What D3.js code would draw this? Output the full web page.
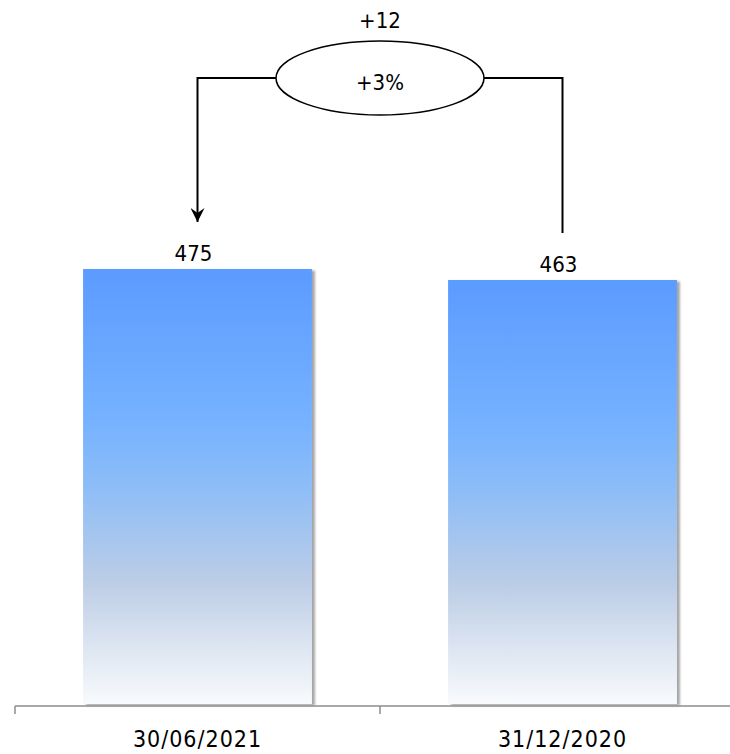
<!DOCTYPE html>
<html>
<head>
<meta charset="utf-8">
<script src="https://cdn.jsdelivr.net/npm/d3@7"></script>
<style>
  html, body { margin: 0; padding: 0; background: #fff; }
  svg { display: block; }
  text { font-family: "DejaVu Sans Condensed", "DejaVu Sans", sans-serif; font-stretch: condensed; fill: #000; }
</style>
</head>
<body>
<svg id="chart" width="730" height="754"></svg>
<script>
// Period labels and headcount values
const categories = ["30/06/2021", "31/12/2020"];
const values = [475, 463];
const deltaLabel = "+12";
const pctLabel = "+3%";

const W = 730, H = 754;
const svg = d3.select("#chart");

const baseY = 704;
const x = d3.scaleBand()
  .domain(categories)
  .range([15, 745])
  .paddingInner(0.373)
  .paddingOuter(0.1865);

const y = d3.scaleLinear()
  .domain([0, 500])
  .range([baseY, baseY - 500 * 435 / 475]);

const defs = svg.append("defs");
const grad = defs.append("linearGradient")
  .attr("id", "barFill")
  .attr("x1", 0).attr("y1", 0).attr("x2", 0).attr("y2", 1);
[
  [0, "#5b9bff"],
  [0.35, "#76b2ff"],
  [0.5, "#8dbdf7"],
  [0.72, "#bccde6"],
  [0.88, "#dfe7f2"],
  [1, "#f8fafd"]
].forEach(([o, c]) => grad.append("stop").attr("offset", o).attr("stop-color", c));

const shadow = defs.append("filter")
  .attr("id", "barShadow")
  .attr("x", "-5%").attr("y", "-5%").attr("width", "115%").attr("height", "115%");
shadow.append("feDropShadow")
  .attr("dx", 3).attr("dy", 1.5)
  .attr("stdDeviation", 1.2)
  .attr("flood-color", "#000")
  .attr("flood-opacity", 0.35);

defs.append("marker")
  .attr("id", "arrowHead")
  .attr("viewBox", "0 0 14 14")
  .attr("refX", 7).attr("refY", 14)
  .attr("markerWidth", 14).attr("markerHeight", 14)
  .attr("markerUnits", "userSpaceOnUse")
  .attr("orient", "0")
  .append("path")
  .attr("d", "M0,0 L7,5 L14,0 L7,14 Z")
  .attr("fill", "#000");

// Bars
svg.append("g").selectAll("rect")
  .data(values)
  .join("rect")
  .attr("x", (d, i) => x(categories[i]))
  .attr("y", d => y(d))
  .attr("width", x.bandwidth())
  .attr("height", d => y(0) - y(d))
  .attr("fill", "url(#barFill)")
  .attr("filter", "url(#barShadow)");

// Value labels
svg.append("g").selectAll("text")
  .data(values)
  .join("text")
  .attr("x", (d, i) => x(categories[i]) + x.bandwidth() / 2 - 4)
  .attr("y", d => y(d) - 8)
  .attr("text-anchor", "middle")
  .attr("font-size", 22)
  .text(d => d);

// Category axis
const axisY = 706;
const axis = svg.append("g");
axis.append("line")
  .attr("x1", x.range()[0]).attr("x2", W)
  .attr("y1", axisY).attr("y2", axisY)
  .attr("stroke", "#8c8c8c").attr("stroke-width", 1.5);
const edges = categories.map(c => x(c) - x.step() * x.paddingInner() / 2).concat([x.range()[1]]);
axis.selectAll("line.tick")
  .data(edges)
  .join("line")
  .attr("class", "tick")
  .attr("x1", d => d).attr("x2", d => d)
  .attr("y1", axisY).attr("y2", axisY + 8)
  .attr("stroke", "#8c8c8c").attr("stroke-width", 1.5);
axis.selectAll("text")
  .data(categories)
  .join("text")
  .attr("x", d => x(d) + x.bandwidth() / 2)
  .attr("y", 747)
  .attr("text-anchor", "middle")
  .attr("font-size", 23)
  .attr("letter-spacing", 1)
  .text(d => d);

// Change bracket between the two bars
const cx0 = x(categories[0]) + x.bandwidth() / 2;
const cx1 = x(categories[1]) + x.bandwidth() / 2;
const ecx = (cx0 + cx1) / 2, ecy = 78, rx = 104, ry = 37;

svg.append("path")
  .attr("d", `M${ecx - rx},${ecy} H${cx0} V${y(values[0]) - 47}`)
  .attr("fill", "none").attr("stroke", "#000").attr("stroke-width", 2)
  .attr("marker-end", "url(#arrowHead)");
svg.append("path")
  .attr("d", `M${ecx + rx},${ecy} H${cx1} V${y(values[1]) - 47}`)
  .attr("fill", "none").attr("stroke", "#000").attr("stroke-width", 2);

svg.append("ellipse")
  .attr("cx", ecx).attr("cy", ecy)
  .attr("rx", rx).attr("ry", ry)
  .attr("fill", "#fff").attr("stroke", "#000").attr("stroke-width", 1.5);

svg.append("text")
  .attr("x", ecx).attr("y", 90)
  .attr("text-anchor", "middle")
  .attr("font-size", 22)
  .text(pctLabel);

svg.append("text")
  .attr("x", ecx).attr("y", 28)
  .attr("text-anchor", "middle")
  .attr("font-size", 22)
  .text(deltaLabel);
</script>
</body>
</html>
